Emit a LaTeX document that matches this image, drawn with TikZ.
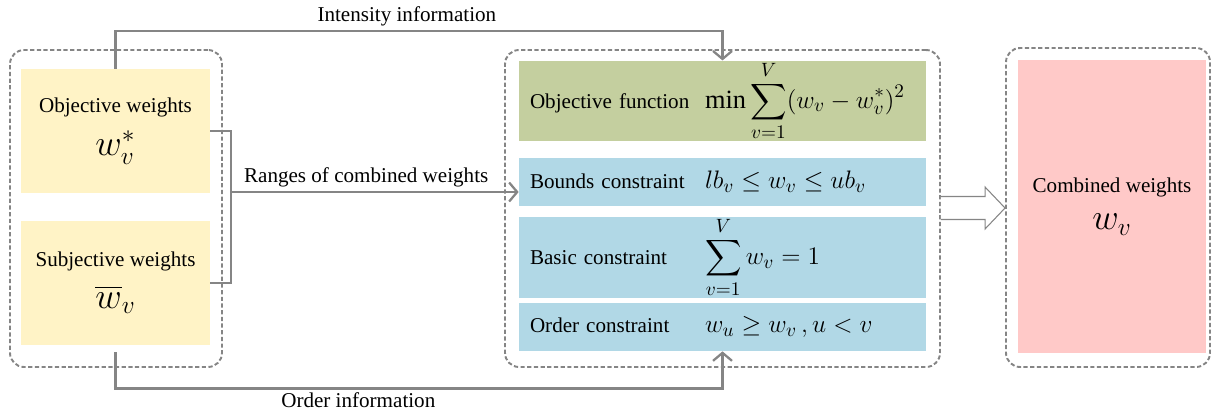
\documentclass[tikz,border=0pt]{standalone}
\usepackage{amsmath}
\usepackage{fontspec}
\setmainfont{Liberation Serif}
\usetikzlibrary{arrows.meta, positioning, calc}
\definecolor{wyellow}{HTML}{FFF3C6}
\definecolor{wgreen}{HTML}{C4CF9F}
\definecolor{wblue}{HTML}{B1D8E6}
\definecolor{wpink}{HTML}{FFC9C8}
\definecolor{linegray}{HTML}{858585}
\newcommand{\rowtext}[2]{\mbox{\makebox[3.5cm][l]{#1}{\fontsize{15}{17}\selectfont$\displaystyle #2$}}}
\tikzset{
    group/.style={draw=linegray, dash pattern=on 2.4pt off 1.4pt, line width=1.1pt, rounded corners=8pt},
    weightbox/.style={rectangle, fill=wyellow, minimum width=3.78cm, minimum height=2.48cm, align=center, font=\fontsize{12}{14}\selectfont},
    modelrow/.style={rectangle, minimum width=8.14cm, text width=7.7cm, align=left, font=\fontsize{12}{14}\selectfont, inner sep=0pt},
    flow/.style={draw=linegray, line width=1.3pt, -{Straight Barb[length=1.6mm, width=3.8mm]}},
    link/.style={draw=linegray, line width=1.3pt},
    hollow/.style={draw=linegray, fill=white, line width=0.6pt},
    lbl/.style={font=\fontsize{12}{14}\selectfont, inner sep=1pt}
}
\begin{document}
\begin{tikzpicture}
  \useasboundingbox (0,0) rectangle (24.22,8.36);
  % dashed groups
  \node[group, minimum width=4.24cm, minimum height=6.34cm] (inputs) at (2.32,4.19) {};
  \node[group, minimum width=8.7cm, minimum height=6.34cm] (model) at (14.45,4.19) {};
  \node[group, minimum width=4.08cm, minimum height=6.38cm] (output) at (22.16,4.21) {};
  % weights
  \node[weightbox] (obj) at (2.31,5.74) {Objective weights\\[7pt] {\fontsize{22}{24}\selectfont$w_v^{*}$}};
  \node[weightbox] (subj) at (2.31,2.70) {Subjective weights\\[7pt] {\fontsize{22}{24}\selectfont$\overline{w}_v$}};
  % optimisation model
  \node[modelrow, fill=wgreen, minimum height=1.56cm] (goal) at (14.45,6.34) {\rowtext{Objective function}{\min\sum_{v=1}^{V}(w_v-w_v^{*})^2}};
  \node[modelrow, fill=wblue, minimum height=0.96cm] (bounds) at (14.45,4.72) {\rowtext{Bounds constraint}{lb_v\le w_v\le ub_v}};
  \node[modelrow, fill=wblue, minimum height=1.62cm] (basic) at (14.45,3.21) {\rowtext{Basic constraint}{\sum_{v=1}^{V}w_v=1}};
  \node[modelrow, fill=wblue, minimum height=0.96cm] (order) at (14.45,1.82) {\rowtext{Order constraint}{w_u\ge w_v\,,u<v}};
  % result
  \node[rectangle, fill=wpink, minimum width=3.76cm, minimum height=5.86cm, align=center, font=\fontsize{12}{14}\selectfont] (comb) at (22.24,4.23) {Combined weights\\[7pt] {\fontsize{22}{24}\selectfont$w_v$}};
  \coordinate (tip) at (output.west |- 0,4.2);
  \draw[hollow] ($(model.east |- tip)+(0,0.23)$) -- ($(tip)+(-0.4,0.23)$) -- ($(tip)+(-0.4,0.42)$) -- (tip)
    -- ($(tip)+(-0.4,-0.42)$) -- ($(tip)+(-0.4,-0.23)$) -- ($(model.east |- tip)+(0,-0.23)$);
  % connectors
  \draw[flow] (obj.north) -- ++(0,0.76) -| node[lbl, pos=0.24, above=1pt] {Intensity information} (goal.north);
  \draw[flow] (subj.south) ++(0,-0.14) -- ++(0,-0.72) -| node[lbl, pos=0.2, below=1pt] {Order information} (order.south);
  \coordinate (brk) at (4.62,4.52);
  \draw[link] (obj.east) -| (brk) |- (subj.east);
  \draw[flow] (brk) -- node[lbl, above=1pt, pos=0.47] {Ranges of combined weights} (brk -| bounds.west);
\end{tikzpicture}
\end{document}
